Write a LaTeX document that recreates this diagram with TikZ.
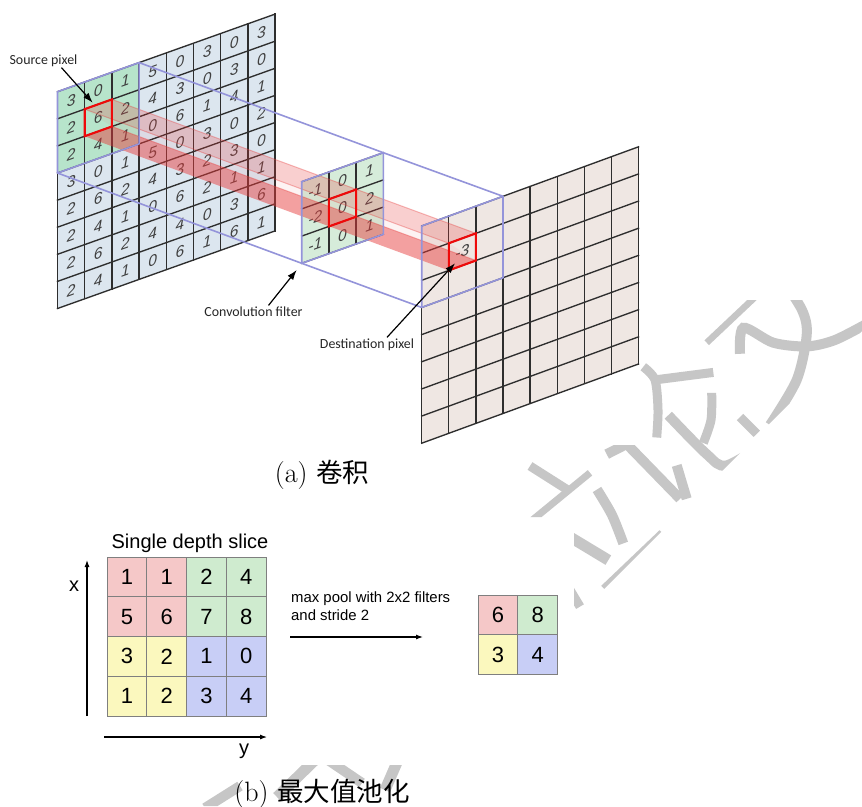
\documentclass[tikz,border=0pt]{standalone}
\usepackage{fontspec}
\usetikzlibrary{arrows.meta,positioning}
\newfontfamily\arialfont{Liberation Sans}
\newfontfamily\labelfont{Carlito}
\newfontfamily\cjkfont{Noto Sans CJK SC}
\definecolor{sheetblue}{HTML}{DCE6EF}
\definecolor{sheetgreen}{HTML}{B7E4CB}
\definecolor{filtergreen}{HTML}{D6ECDA}
\definecolor{sheetrose}{HTML}{EFE7E3}
\definecolor{gridline}{HTML}{2E2E2E}
\definecolor{windowblue}{HTML}{9494DA}
\definecolor{beamred}{HTML}{E83A3A}
\definecolor{cellred}{HTML}{EE0A0A}
\definecolor{poolred}{HTML}{F5C8C8}
\definecolor{poolgreen}{HTML}{CFEBCF}
\definecolor{poolyellow}{HTML}{FBF8BE}
\definecolor{poolblue}{HTML}{C8CEF6}
\definecolor{poolline}{HTML}{7F7F7F}
\definecolor{inkgray}{HTML}{C6C6C6}
\tikzset{
  >=Latex,
  srcaxes/.style={shift={(57.5,91.7)}, x={(27.2pt,9.7pt)}, y={(0pt,-27.1pt)}},
  filtaxes/.style={shift={(301.7,181.7)}, x={(27.2pt,9.67pt)}, y={(0pt,-27.2pt)}},
  dstaxes/.style={shift={(421.7,226)}, x={(27.1pt,9.9pt)}, y={(0pt,-27.15pt)}},
  gridrule/.style={draw=gridline, line width=1.35pt, line cap=rect},
  window/.style={draw=windowblue, line width=1.6pt, line join=round},
  pickcell/.style={draw=cellred, line width=2.1pt, line join=miter},
  beamtop/.style={fill=beamred, fill opacity=0.24},
  beambottom/.style={fill=beamred, fill opacity=0.48},
  beamgap/.style={fill=beamred, fill opacity=0.06},
  beamedge/.style={draw=beamred, draw opacity=0.35, line width=1pt},
  cellnum/.style={font=\arialfont\itshape\fontsize{15.5}{16}\selectfont, text=black!75, inner sep=0pt, yslant=0.357},
  callout/.style={-{Latex[length=10pt,width=7pt]}, line width=1.2pt, black},
  tag/.style={font=\labelfont\fontsize{13.9}{15}\selectfont, text=black!85, inner sep=1pt},
  poolcell/.style={rectangle, draw=poolline, line width=0.9pt, minimum size=39.75pt, inner sep=0pt, outer sep=0pt,
    font=\arialfont\fontsize{22}{24}\selectfont},
  poolarrow/.style={-{Latex[length=7pt,width=5pt]}, line width=1.1pt, black},
  pooltext/.style={font=\arialfont\fontsize{20}{22}\selectfont, inner sep=0pt},
  caption/.style={font=\fontsize{28}{32}\selectfont, inner sep=0pt},
  cjkpart/.style={},
  ink/.style={draw=inkgray, line width=9pt}
}
\newcommand{\sheetfill}[3]{
  \fill[#1] (0,0) -- (#2,0) -- (#2,#3) -- (0,#3) -- cycle;
}
\newcommand{\sheetlines}[2]{
  \foreach \i in {0,...,#1} \draw[gridrule] (\i,0) -- (\i,#2);
  \foreach \j in {0,...,#2} \draw[gridrule] (0,\j) -- (#1,\j);
}
\newcommand{\captext}[1]{{\cjkfont\fontsize{26.5}{32}\selectfont #1}}
\begin{document}
\begin{tikzpicture}[x=1pt, y=-1pt, node distance=0pt]
\useasboundingbox (0,0) rectangle (862,806);
\fill[white] (0,0) rectangle (862,806);

\begin{scope}
\clip (640,445) -- (640,300) -- (862,300) -- (862,331) -- (574,619) -- (574,517) -- (500,517) -- (500,445) -- cycle
  (190,765) rectangle (420,806);
\draw[ink, line width=7pt] (735,275.8) -- (753.3,292.5);
\draw[ink, line width=6.5pt] (706.7,342.7) -- (803.3,251.6);
\draw[ink, line width=10pt] plot[smooth] coordinates {(780,275.8) (802,310) (806.7,335) (796.7,379.9) (770,425)};
\draw[ink, line width=10pt] plot[smooth] coordinates {(740,353.8) (743.3,327.8) (773.3,342.7) (806.7,346.4) (835,340) (870,322)};
\draw[ink] plot[smooth] coordinates {(643.3,366.8) (655,379.9) (658,410) (656.7,437.5)};
\draw[ink] (655,379.9) -- (713.3,372.4);
\draw[ink] plot[smooth] coordinates {(711.7,392.9) (711,420) (703.3,443)};
\draw[ink, line width=10pt] plot[smooth] coordinates {(668.3,415.2) (706.7,454.2) (726.7,465.4) (770,440)};
\draw[ink] (740,417) -- (756.7,433.8);
\draw[ink] (530,466) -- (570,491.4);
\draw[ink, line width=7pt] (530,522) -- (590,472.8);
\draw[ink, line width=10pt] (606.7,454.2) -- (626.7,444) -- (680,498.8);
\draw[ink, line width=10pt] (676.7,465.4) -- (686.7,498.8);
\draw[ink, line width=10pt] plot[smooth] coordinates {(597,489.5) (612,515) (623.3,543.4)};
\draw[ink, line width=11pt] (565,534) -- (608.3,560.1);
\draw[ink, line width=6pt] (603.3,588) -- (661.7,532.3);
\draw[ink] (570,590) -- (580,606.6);
\draw[ink, line width=10pt] (205,808) -- (240,786);
\draw[ink, line width=11pt] (315,760) -- (277,797);
\draw[ink, line width=10pt] (328,760) -- (362,783);
\draw[ink, line width=11pt] (398,760) -- (385,790);
\end{scope}

\begin{scope}[srcaxes]
\sheetfill{sheetblue}{8}{8}
\sheetfill{sheetgreen}{3}{3}
\sheetlines{8}{8}
\foreach \col/\vals in {0/{3,2,2,3,2,2,2,2},1/{0,6,4,0,6,4,6,4},2/{1,2,1,1,2,1,2,1},3/{5,4,0,5,4,0,4,0},4/{0,3,6,0,3,6,4,6},5/{3,0,1,3,2,2,0,1},6/{0,3,4,0,3,1,3,6},7/{3,0,1,2,0,1,6,1}}
  \foreach \val [count=\row from 0] in \vals
    \node[cellnum] (src-\col-\row) at (\col+0.5,\row+0.5) {\val};
\coordinate (srcwin-tl) at (0,0);
\coordinate (srcwin-tr) at (3,0);
\coordinate (srcwin-br) at (3,3);
\coordinate (srcwin-bl) at (0,3);
\coordinate (srccell-tl) at (1,1);
\coordinate (srccell-tr) at (2,1);
\coordinate (srccell-br) at (2,2);
\coordinate (srccell-bl) at (1,2);
\end{scope}

\begin{scope}[filtaxes]
\sheetfill{filtergreen}{3}{3}
\sheetlines{3}{3}
\foreach \col/\vals in {0/{-1,-2,-1},1/{0,0,0},2/{1,2,1}}
  \foreach \val [count=\row from 0] in \vals
    \node[cellnum] (filt-\col-\row) at (\col+0.5,\row+0.5) {\val};
\coordinate (filt-tl) at (0,0);
\coordinate (filt-tr) at (3,0);
\coordinate (filt-br) at (3,3);
\coordinate (filt-bl) at (0,3);
\coordinate (filtcell-tl) at (1,1);
\coordinate (filtcell-tr) at (2,1);
\coordinate (filtcell-br) at (2,2);
\coordinate (filtcell-bl) at (1,2);
\end{scope}

\begin{scope}[dstaxes]
\sheetfill{sheetrose}{8}{8}
\sheetlines{8}{8}
\node[cellnum] (dst-val) at (1.5,1.5) {-3};
\coordinate (dstwin-tl) at (0,0);
\coordinate (dstwin-tr) at (3,0);
\coordinate (dstwin-br) at (3,3);
\coordinate (dstwin-bl) at (0,3);
\coordinate (dstcell-tl) at (1,1);
\coordinate (dstcell-tr) at (2,1);
\coordinate (dstcell-br) at (2,2);
\coordinate (dstcell-bl) at (1,2);
\end{scope}

\fill[beamgap] (srccell-tl) -- (dstcell-tl) -- (dstcell-br) -- (srccell-br) -- cycle;
\fill[beamtop] (srccell-tl) -- (srccell-tr) -- (dstcell-tr) -- (dstcell-tl) -- cycle;
\fill[beambottom] (srccell-bl) -- (srccell-br) -- (dstcell-br) -- (dstcell-bl) -- cycle;
\draw[beamedge] (srccell-tr) -- (dstcell-tr);
\draw[beamedge] (srccell-tl) -- (dstcell-tl);
\draw[beamedge] (srccell-br) -- (dstcell-br);

\draw[window] (srcwin-tl) -- (srcwin-tr) -- (srcwin-br) -- (srcwin-bl) -- cycle;
\draw[window] (filt-tl) -- (filt-tr) -- (filt-br) -- (filt-bl) -- cycle;
\draw[window] (dstwin-tl) -- (dstwin-tr) -- (dstwin-br) -- (dstwin-bl) -- cycle;
\draw[window] (srcwin-tr) -- (filt-tr) -- (dstwin-tr);
\draw[window] (srcwin-bl) -- (filt-bl) -- (dstwin-bl);

\draw[pickcell] (srccell-tl) -- (srccell-tr) -- (srccell-br) -- (srccell-bl) -- cycle;
\draw[pickcell] (filtcell-tl) -- (filtcell-tr) -- (filtcell-br) -- (filtcell-bl) -- cycle;
\draw[pickcell] (dstcell-tl) -- (dstcell-tr) -- (dstcell-br) -- (dstcell-bl) -- cycle;

\node[tag] (srctag) at (43.5,60.5) {Source pixel};
\node[tag] (convtag) at (253.5,311.5) {Convolution filter};
\node[tag] (dsttag) at (367,344.5) {Destination pixel};
\coordinate (srctip) at (92.7,102.7);
\coordinate (convtip) at (296.7,270);
\coordinate (dsttip) at (455,263.3);
\draw[callout] ([xshift=18pt]srctag.south) -- (srctip);
\draw[callout] ([xshift=15pt]convtag.north) -- (convtip);
\draw[callout] ([xshift=20pt]dsttag.north) -- (dsttip);

\node[caption] (capa) at (322,475) {(a) \captext{卷积}};

\node[pooltext, anchor=base] (slice) at (190,548) {Single depth slice};
\node[poolcell, fill=poolred] (p11) at (126.9,576.9) {1};
\node[poolcell, fill=poolred, right=of p11] (p12) {1};
\node[poolcell, fill=poolgreen, right=of p12] (p13) {2};
\node[poolcell, fill=poolgreen, right=of p13] (p14) {4};
\node[poolcell, fill=poolred, below=of p11] (p21) {5};
\node[poolcell, fill=poolred, right=of p21] (p22) {6};
\node[poolcell, fill=poolgreen, right=of p22] (p23) {7};
\node[poolcell, fill=poolgreen, right=of p23] (p24) {8};
\node[poolcell, fill=poolyellow, below=of p21] (p31) {3};
\node[poolcell, fill=poolyellow, right=of p31] (p32) {2};
\node[poolcell, fill=poolblue, right=of p32] (p33) {1};
\node[poolcell, fill=poolblue, right=of p33] (p34) {0};
\node[poolcell, fill=poolyellow, below=of p31] (p41) {1};
\node[poolcell, fill=poolyellow, right=of p41] (p42) {2};
\node[poolcell, fill=poolblue, right=of p42] (p43) {3};
\node[poolcell, fill=poolblue, right=of p43] (p44) {4};

\node[poolcell, fill=poolred] (q11) at (497.9,614.9) {6};
\node[poolcell, fill=poolgreen, right=of q11] (q12) {8};
\node[poolcell, fill=poolyellow, below=of q11] (q21) {3};
\node[poolcell, fill=poolblue, right=of q21] (q22) {4};

\node[pooltext] (xtag) at (74,586) {x};
\node[pooltext] (ytag) at (244,751) {y};
\draw[poolarrow] ([xshift=-20pt]p41.south west) -- ([xshift=-20pt,yshift=-3pt]p11.north west);
\draw[poolarrow] ([xshift=-3pt,yshift=-21pt]p41.south west) -- ([xshift=1pt,yshift=-21pt]p44.south east);

\node[font=\arialfont\fontsize{14.9}{18}\selectfont, align=left, inner sep=0pt, anchor=north west] (pooltag) at (291,591) {max pool with 2x2 filters\\and stride 2};
\coordinate (poolfrom) at (290,637);
\coordinate (poolto) at (423,637);
\draw[poolarrow] (poolfrom) -- (poolto);

\node[caption] (capb) at (322,794) {(b) \captext{最大值池化}};
\end{tikzpicture}
\end{document}
